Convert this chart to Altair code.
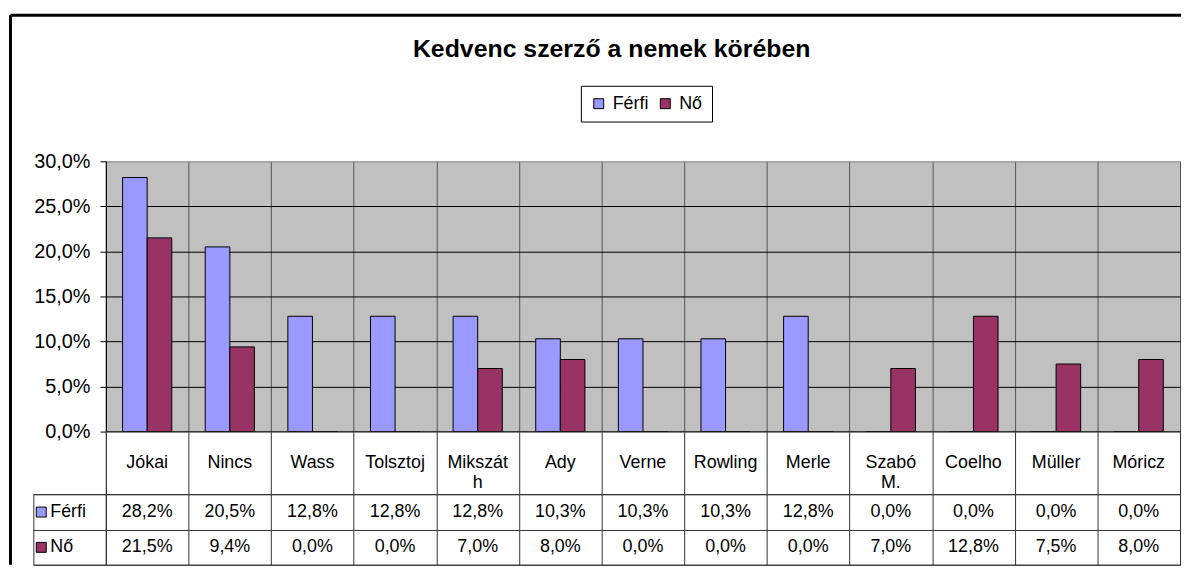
import altair as alt
import pandas as pd

# ---- data ----
authors = ["Jókai", "Nincs", "Wass", "Tolsztoj", "Mikszáth", "Ady", "Verne",
           "Rowling", "Merle", "Szabó M.", "Coelho", "Müller", "Móricz"]
author_labels = ["Jókai", "Nincs", "Wass", "Tolsztoj", "Mikszát\nh", "Ady", "Verne",
                 "Rowling", "Merle", "Szabó\nM.", "Coelho", "Müller", "Móricz"]
series = ["Férfi", "Nő"]
ferfi = [28.2, 20.5, 12.8, 12.8, 12.8, 10.3, 10.3, 10.3, 12.8, 0.0, 0.0, 0.0, 0.0]
no = [21.5, 9.4, 0.0, 0.0, 7.0, 8.0, 0.0, 0.0, 0.0, 7.0, 12.8, 7.5, 8.0]
y_ticks = [0, 5, 10, 15, 20, 25, 30]
colors = ["#9999FF", "#993366"]
title_text = "Kedvenc szerző a nemek körében"

rows = []
for i, a in enumerate(authors):
    for s, vals in zip(series, [ferfi, no]):
        v = vals[i]
        rows.append({"author": a, "series": s, "value": v / 100,
                     "text": f"{v:.1f}%".replace(".", ",")})
df = pd.DataFrame(rows)
cat_df = pd.DataFrame({"author": authors, "label": author_labels})
ser_df = pd.DataFrame({"series": series})
one_df = pd.DataFrame({"k": [0]})

FONT = "Liberation Sans"
PLOT_W = 1081
LEFT_W = 73
LINE = "#333333"

xscale = alt.Scale(domain=authors, paddingInner=0, paddingOuter=0)
rowscale = alt.Scale(domain=series, paddingInner=0, paddingOuter=0)
color_scale = alt.Scale(domain=series, range=colors)

grid_x_axis = alt.Axis(title=None, labels=False, ticks=False, domain=False,
                       grid=True, gridColor=LINE, gridOpacity=1, tickBand="extent")

# ---- bar chart ----
bars = alt.Chart(df).mark_bar(stroke="black", strokeWidth=1).encode(
    x=alt.X("author:N", scale=xscale,
            axis=alt.Axis(title=None, labels=False, ticks=False, domain=True,
                          domainColor="black", domainWidth=1, grid=True,
                          gridColor="#555555", gridOpacity=1, tickBand="extent")),
    xOffset=alt.XOffset("series:N", scale=alt.Scale(domain=series, paddingInner=0, paddingOuter=0.68)),
    y=alt.Y("value:Q", scale=alt.Scale(domain=[0, 0.3], nice=False),
            axis=alt.Axis(title=None, values=[t / 100 for t in y_ticks],
                          labelExpr="replace(format(datum.value, '.1%'), '.', ',')",
                          labelFontSize=20, labelColor="black", labelPadding=10,
                          tickSize=6, tickColor="black", domainColor="black",
                          grid=True, gridOpacity=1,
                          gridColor={"condition": {"test": "datum.value >= 0.3", "value": "#a6a6a6"},
                                     "value": "black"})),
    color=alt.Color("series:N", scale=color_scale,
                    legend=alt.Legend(title=None, orient="none", legendX=478, legendY=-76,
                                      direction="horizontal", symbolType="square",
                                      symbolSize=100, symbolStrokeColor="black",
                                      symbolStrokeWidth=1, symbolOpacity=1,
                                      labelFontSize=18, labelColor="black",
                                      labelOffset=5, columnPadding=8, padding=9,
                                      strokeColor="black", fillColor="white")),
)

frame_top = alt.Chart(one_df).mark_rule(color="black", strokeWidth=3).encode(
    x=alt.value(-96), x2=alt.value(1082), y=alt.value(-147))
frame_left = alt.Chart(one_df).mark_rule(color="black", strokeWidth=3).encode(
    x=alt.value(-96), y=alt.value(-147), y2=alt.value(406))

A = alt.layer(bars, frame_top, frame_left).properties(
    width=PLOT_W, height=272,
    view=alt.ViewBackground(fill="#C0C0C0", stroke="#808080"))

# ---- category row of the data table ----
B1 = alt.Chart(cat_df).mark_text(fontSize=18, lineBreak="\n", lineHeight=20,
                                 color="black").encode(
    x=alt.X("author:N", scale=xscale, axis=grid_x_axis),
    text="label:N",
).properties(width=PLOT_W, height=63,
             view=alt.ViewBackground(fill="white", stroke=LINE))

# ---- value rows of the data table ----
row_axis = alt.Axis(title=None, labels=False, ticks=False, domain=False,
                    grid=True, gridColor=LINE, gridOpacity=1, tickBand="extent")
B2 = alt.Chart(df).mark_text(fontSize=18, color="black").encode(
    x=alt.X("author:N", scale=xscale, axis=grid_x_axis),
    y=alt.Y("series:N", scale=rowscale, axis=row_axis),
    text="text:N",
).properties(width=PLOT_W, height=71,
             view=alt.ViewBackground(fill="white", stroke=LINE))

# ---- row header (legend keys) ----
H = alt.Chart(ser_df).mark_point(opacity=0, filled=True, shape="square").encode(
    y=alt.Y("series:N", scale=rowscale, axis=row_axis),
    color=alt.Color("series:N", scale=color_scale,
                    legend=alt.Legend(title=None, orient="none", legendX=-1, legendY=9,
                                      direction="vertical", symbolType="square",
                                      symbolSize=100, symbolStrokeColor="black",
                                      symbolStrokeWidth=1, symbolOpacity=1,
                                      labelFontSize=18, labelColor="black",
                                      labelOffset=0, rowPadding=17.5, padding=0)),
).properties(width=LEFT_W, height=71,
             view=alt.ViewBackground(fill="white", stroke=LINE))

spacer1 = alt.Chart(one_df).mark_point(opacity=0).properties(
    width=LEFT_W, height=272, view=alt.ViewBackground(strokeOpacity=0))
spacer2 = alt.Chart(one_df).mark_point(opacity=0).properties(
    width=LEFT_W, height=63, view=alt.ViewBackground(strokeOpacity=0))

chart = alt.concat(spacer1, A, spacer2, B1, H, B2, columns=2, spacing=0,
                   bounds="flush", align="each").resolve_scale(
    color="independent", x="independent", y="independent"
).resolve_legend(color="independent").properties(
    title=alt.TitleParams(title_text, fontSize=25, fontWeight="bold", color="black",
                          anchor="middle", frame="bounds", offset=0, dy=49, dx=16),
    padding={"top": 3.5, "left": 0.5, "right": 0, "bottom": 0},
    background="white",
).configure(font=FONT)

chart.save("out.html", embed_options={"renderer": "svg", "actions": False})
